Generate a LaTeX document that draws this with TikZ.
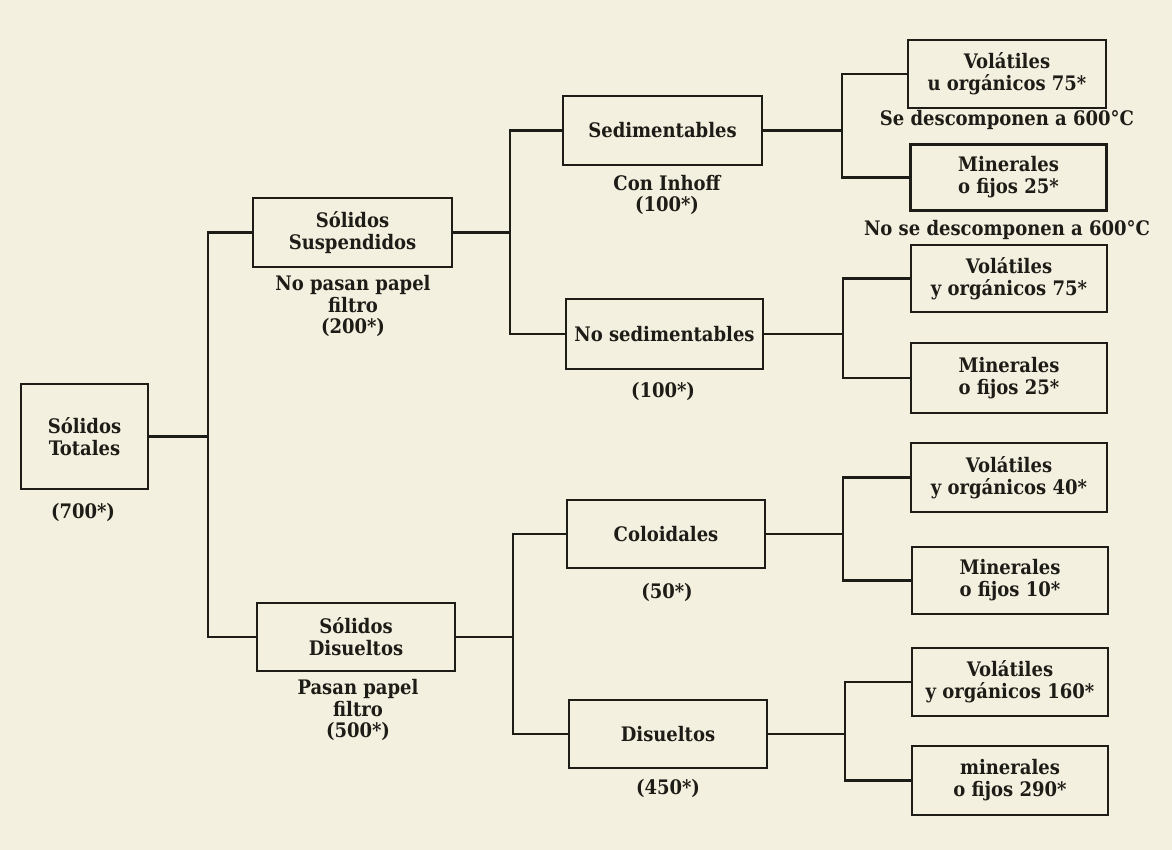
\documentclass[tikz,border=0pt]{standalone}
\usepackage{fontspec}
\setmainfont{DejaVu Serif Condensed}
\definecolor{paper}{RGB}{243,240,224}
\definecolor{ink}{RGB}{30,28,22}
\tikzset{
  box/.style={draw=ink, line width=2.6pt, rectangle, align=center, text=ink,
    inner sep=0pt, font=\fontsize{20}{22}\selectfont\bfseries},
  lbl/.style={align=center, text=ink, inner sep=0pt, font=\fontsize{20}{21.5}\selectfont\bfseries},
  con/.style={draw=ink, line width=2.3pt},
}
\begin{document}
\begin{tikzpicture}[x=1pt,y=-1pt]
\fill[paper] (0,0) rectangle (1172,850);
\useasboundingbox (0,0) rectangle (1172,850);

% boxes
\node[box, minimum width=127pt, minimum height=105pt] (tot) at (84.5,436.5) {Sólidos\\Totales};
\node[box, minimum width=199pt, minimum height=69pt] (susp) at (352.5,232.5) {Sólidos\\Suspendidos};
\node[box, minimum width=198pt, minimum height=68pt] (dis) at (356,637) {Sólidos\\Disueltos};
\node[box, minimum width=199pt, minimum height=69pt] (sed) at (662.5,130.5) {Sedimentables};
\node[box, minimum width=197pt, minimum height=70pt] (nosed) at (664.5,334) {No sedimentables};
\node[box, minimum width=198pt, minimum height=68pt] (col) at (666,534) {Coloidales};
\node[box, minimum width=198pt, minimum height=68pt] (disu) at (668,734) {Disueltos};

\node[box, minimum width=198pt, minimum height=68pt] (v1) at (1007,74) {Volátiles\\u orgánicos 75*};
\node[box, minimum width=196pt, minimum height=66pt] (m1) at (1008.5,177.5) {Minerales\\o fijos 25*};
\node[box, minimum width=196pt, minimum height=67pt] (v2) at (1009,278.5) {Volátiles\\y orgánicos 75*};
\node[box, minimum width=196pt, minimum height=70pt] (m2) at (1009,378) {Minerales\\o fijos 25*};
\node[box, minimum width=196pt, minimum height=69pt] (v3) at (1009,477.5) {Volátiles\\y orgánicos 40*};
\node[box, minimum width=196pt, minimum height=67pt] (m3) at (1010,580.5) {Minerales\\o fijos 10*};
\node[box, minimum width=196pt, minimum height=68pt] (v4) at (1010,682) {Volátiles\\y orgánicos 160*};
\node[box, minimum width=196pt, minimum height=69pt] (m4) at (1010,780.5) {minerales\\o fijos 290*};

% labels
\node[lbl] (l700) at (83,512) {(700*)};
\node[lbl] (l200) at (353,306) {No pasan papel\\filtro\\(200*)};
\node[lbl] (l500) at (358,710) {Pasan papel\\filtro\\(500*)};
\node[lbl] (linh) at (667,195) {Con Inhoff\\(100*)};
\node[lbl] (l100) at (663,391) {(100*)};
\node[lbl] (l50) at (667,592) {(50*)};
\node[lbl] (l450) at (668,788) {(450*)};
\node[lbl] (lse) at (1007,120) {Se descomponen a 600°C};
\node[lbl] (lnose) at (1007,230) {No se descomponen a 600°C};

% junction coordinates
\coordinate (j0) at (208,436);
\coordinate (j1) at (510,230);
\coordinate (j2) at (513,634);
\coordinate (j3) at (842,128);
\coordinate (j4) at (843,332);
\coordinate (j5) at (843,532);
\coordinate (j6) at (845,732);

% connectors
\draw[con] (tot.east) -- (tot.east -| j0);
\draw[con] (susp.west) -| (j0) |- (dis.west);
\draw[con] (susp.east) -- (susp.east -| j1);
\draw[con] (sed.west) -| (j1) |- (nosed.west);
\draw[con] (dis.east) -- (dis.east -| j2);
\draw[con] (col.west) -| (j2) |- (disu.west);
\draw[con] (sed.east) -- (sed.east -| j3);
\draw[con] (v1.west) -| (j3) |- (m1.west);
\draw[con] (nosed.east) -- (nosed.east -| j4);
\draw[con] (v2.west) -| (j4) |- (m2.west);
\draw[con] (col.east) -- (col.east -| j5);
\draw[con] (v3.west) -| (j5) |- (m3.west);
\draw[con] (disu.east) -- (disu.east -| j6);
\draw[con] (v4.west) -| (j6) |- (m4.west);
\end{tikzpicture}
\end{document}
